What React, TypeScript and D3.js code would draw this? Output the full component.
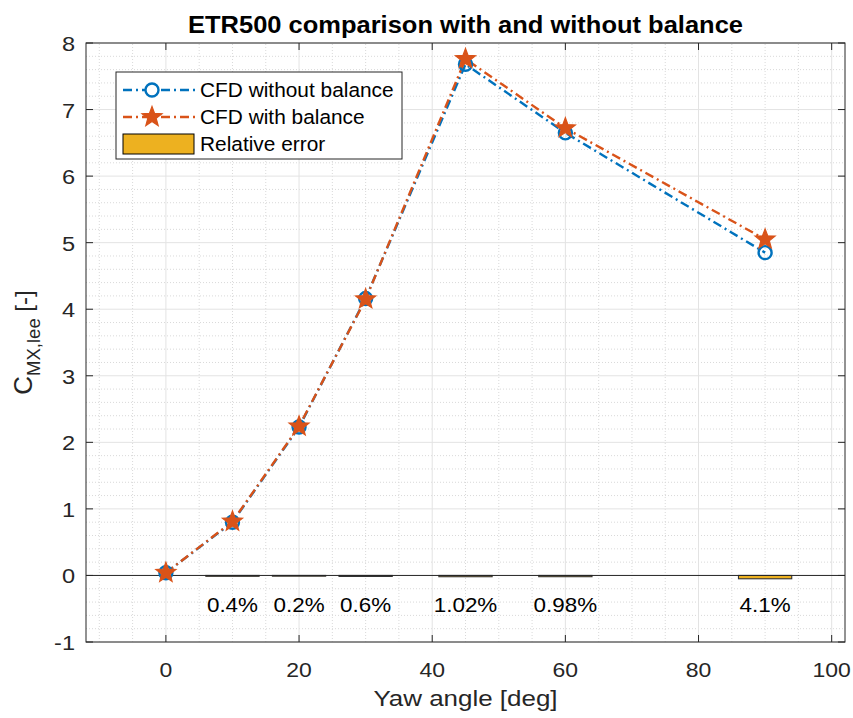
import React from 'react';
import * as d3 from 'd3';

const yaw = [0, 10, 20, 30, 45, 60, 90];
const withoutBalance = [0.04, 0.8, 2.23, 4.16, 7.68, 6.65, 4.85];
const withBalance = [0.04, 0.81, 2.24, 4.15, 7.76, 6.72, 5.05];

const errYaw = [10, 20, 30, 45, 60, 90];
const errPct = [0.4, 0.2, 0.6, 1.02, 0.98, 4.1];
const errLabels = ['0.4%', '0.2%', '0.6%', '1.02%', '0.98%', '4.1%'];

const xTicks = [0, 20, 40, 60, 80, 100];
const yTicks = [-1, 0, 1, 2, 3, 4, 5, 6, 7, 8];

const W = 853;
const H = 718;
const m = { left: 86, right: 8, top: 43, bottom: 76 };
const FONT = '"Liberation Sans", Arial, Helvetica, sans-serif';
const BLUE = '#0072BD';
const ORANGE = '#D95319';
const GOLD = '#EDB120';
const AX = '#262626';

const starPath = (r: number) => {
  const pts: string[] = [];
  for (let i = 0; i < 10; i++) {
    const rr = i % 2 === 0 ? r : r * 0.42;
    const a = -Math.PI / 2 + (i * Math.PI) / 5;
    pts.push(`${(rr * Math.cos(a)).toFixed(2)},${(rr * Math.sin(a)).toFixed(2)}`);
  }
  return 'M' + pts.join('L') + 'Z';
};

// text a bit wider than the font, like the reference
const T = ({ x, y, sx = 1.15, size = 20, anchor = 'middle', weight = 'normal', fill = AX, children }: any) => (
  <g transform={`translate(${x},${y}) scale(${sx},1)`}>
    <text fontSize={size} textAnchor={anchor} fontWeight={weight} fill={fill}>
      {children}
    </text>
  </g>
);

const App = () => {
  const x = d3.scaleLinear().domain([-12, 102]).range([m.left, W - m.right]);
  const y = d3.scaleLinear().domain([-1, 8]).range([H - m.bottom, m.top]);

  const line = d3
    .line<number>()
    .x((_, i) => x(yaw[i]))
    .y((d) => y(d));

  const xMinor = d3.range(-10, 101, 5).filter((v) => v % 20 !== 0);
  const yMinor = d3.range(-1, 8.001, 0.2).filter((v) => Math.abs(v - Math.round(v)) > 1e-6);

  const x0 = m.left;
  const x1 = W - m.right;
  const y0 = H - m.bottom;
  const y1 = m.top;
  const tick = 7;
  const dash = '9,4,2,4';

  return (
    <svg width={W} height={H} style={{ position: 'absolute', left: 0, top: 0, fontFamily: FONT }}>
      <rect width={W} height={H} fill="#fff" />
      {/* minor grid */}
      {xMinor.map((v) => (
        <line key={'xm' + v} x1={x(v)} x2={x(v)} y1={y0} y2={y1} stroke="#d9d9d9" strokeDasharray="1,2" />
      ))}
      {yMinor.map((v) => (
        <line key={'ym' + v} x1={x0} x2={x1} y1={y(v)} y2={y(v)} stroke="#d9d9d9" strokeDasharray="1,2" />
      ))}
      {/* major grid */}
      {xTicks.map((v) => (
        <line key={'xg' + v} x1={x(v)} x2={x(v)} y1={y0} y2={y1} stroke="#e3e3e3" />
      ))}
      {yTicks.map((v) => (
        <line key={'yg' + v} x1={x0} x2={x1} y1={y(v)} y2={y(v)} stroke="#e3e3e3" />
      ))}

      {/* relative error bars */}
      {errYaw.map((v, i) => (
        <rect
          key={'b' + v}
          x={x(v - 4)}
          width={x(v + 4) - x(v - 4)}
          y={y(0)}
          height={y(-errPct[i] / 100) - y(0) + 0.6}
          fill={GOLD}
          stroke="#333"
          strokeWidth={1.1}
        />
      ))}
      <line x1={x0} x2={x1} y1={y(0)} y2={y(0)} stroke="#262626" strokeWidth={1} />
      {errYaw.map((v, i) => (
        <T key={'l' + v} x={x(v)} y={y(-0.55)} size={19.5} sx={1.15} fill="#000">
          {errLabels[i]}
        </T>
      ))}

      {/* series */}
      <path d={line(withoutBalance) || ''} fill="none" stroke={BLUE} strokeWidth={2.4} strokeDasharray={dash} />
      <path d={line(withBalance) || ''} fill="none" stroke={ORANGE} strokeWidth={2.4} strokeDasharray={dash} />
      {withoutBalance.map((d, i) => (
        <circle key={'c' + i} cx={x(yaw[i])} cy={y(d)} r={6.5} fill="none" stroke={BLUE} strokeWidth={2.4} />
      ))}
      {withBalance.map((d, i) => (
        <path
          key={'s' + i}
          d={starPath(10.5)}
          transform={`translate(${x(yaw[i])},${y(d)})`}
          fill={ORANGE}
          stroke={ORANGE}
          strokeWidth={1.2}
        />
      ))}

      {/* axes box and ticks */}
      <rect x={x0} y={y1} width={x1 - x0} height={y0 - y1} fill="none" stroke={AX} strokeWidth={1} />
      {xTicks.map((v) => (
        <g key={'xt' + v}>
          <line x1={x(v)} x2={x(v)} y1={y0} y2={y0 - tick} stroke={AX} />
          <line x1={x(v)} x2={x(v)} y1={y1} y2={y1 + tick} stroke={AX} />
          <T x={x(v)} y={y0 + 35}>{v}</T>
        </g>
      ))}
      {yTicks.map((v) => (
        <g key={'yt' + v}>
          <line x1={x0} x2={x0 + tick} y1={y(v)} y2={y(v)} stroke={AX} />
          <line x1={x1} x2={x1 - tick} y1={y(v)} y2={y(v)} stroke={AX} />
          <T x={x0 - 11} y={y(v) + 8} size={20.5} anchor="end">
            {v}
          </T>
        </g>
      ))}

      {/* labels */}
      <T x={(x0 + x1) / 2} y={33} size={23.5} sx={1.085} weight="bold" fill="#000">
        ETR500 comparison with and without balance
      </T>
      <T x={(x0 + x1) / 2} y={706} size={22} sx={1.18}>
        Yaw angle [deg]
      </T>
      <text transform={`translate(32,${(y0 + y1) / 2}) rotate(-90)`} textAnchor="middle" fill={AX} fontSize={26}>
        C<tspan fontSize={18.5} dy={8}>MX,lee</tspan>
        <tspan fontSize={24} dy={-8}> [-]</tspan>
      </text>

      {/* legend */}
      <g transform="translate(116,72)">
        <rect width={286} height={87} fill="#fff" stroke={AX} strokeWidth={1} />
        <line x1={7} x2={79} y1={18} y2={18} stroke={BLUE} strokeWidth={2.4} strokeDasharray={dash} />
        <circle cx={36} cy={18} r={6.5} fill="#fff" stroke={BLUE} strokeWidth={2.4} />
        <T x={84} y={25} size={19.5} sx={1.07} anchor="start" fill="#000">CFD without balance</T>
        <line x1={7} x2={79} y1={45} y2={45} stroke={ORANGE} strokeWidth={2.4} strokeDasharray={dash} />
        <path d={starPath(10.5)} transform="translate(36,45)" fill={ORANGE} stroke={ORANGE} strokeWidth={1.2} />
        <T x={84} y={52} size={19.5} sx={1.07} anchor="start" fill="#000">CFD with balance</T>
        <rect x={7} y={62} width={71} height={20} fill={GOLD} stroke="#000" strokeWidth={1} />
        <T x={84} y={79} size={19.5} sx={1.07} anchor="start" fill="#000">Relative error</T>
      </g>
    </svg>
  );
};

export default App;
